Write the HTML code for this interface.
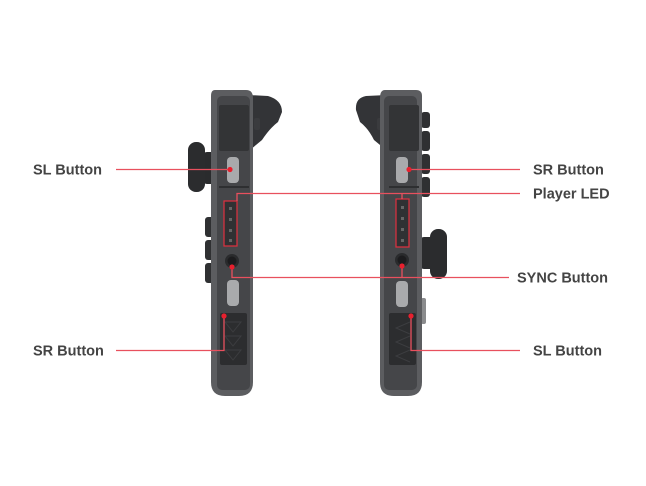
<!DOCTYPE html>
<html><head><style>
html,body{margin:0;padding:0;background:#fff;width:646px;height:486px;overflow:hidden}
text{font-family:"Liberation Sans",sans-serif;font-weight:bold;font-size:14.5px;fill:#444}
</style></head><body>
<svg width="646" height="486" viewBox="0 0 646 486" xmlns="http://www.w3.org/2000/svg">
<!-- LEFT JOYCON -->
<g>
  <!-- trigger -->
  <path d="M248 95 L268 96 Q282 100 282 112 L278 122 Q270 128 262 140 L250 150 Z" fill="#333437"/>
  <rect x="254" y="118" width="6" height="12" rx="2" fill="#3a3b3e"/>
  <!-- stick -->
  <rect x="203" y="152" width="12" height="32" rx="4" fill="#2a2b2d"/>
  <rect x="188" y="142" width="17" height="50" rx="8" fill="#2b2c2e"/>
  <!-- side buttons -->
  <rect x="205" y="217" width="10" height="20" rx="3" fill="#2f3032"/>
  <rect x="205" y="240" width="10" height="20" rx="3" fill="#2f3032"/>
  <rect x="205" y="263" width="10" height="20" rx="3" fill="#2f3032"/>
  <!-- body -->
  <path d="M215 90 L246 90 Q253 90 253 98 L253 382 Q253 396 239 396 L225 396 Q211 396 211 382 L211 96 Q211 90 215 90 Z" fill="#5c5d60"/>
  <rect x="217" y="96" width="33" height="294" rx="5" fill="#454649"/>
  <rect x="219" y="105" width="30" height="46" rx="2" fill="#333436"/>
  <rect x="227" y="157" width="12" height="26" rx="4" fill="#a9aaac"/>
  <rect x="219" y="186" width="30" height="2" fill="#2e2f31"/>
  <rect x="224" y="201" width="13" height="45" fill="#303133" stroke="#e0303f" stroke-width="1.2"/>
  <rect x="229" y="207" width="3" height="3" fill="#666"/><rect x="229" y="218" width="3" height="3" fill="#666"/>
  <rect x="229" y="229" width="3" height="3" fill="#666"/><rect x="229" y="239" width="3" height="3" fill="#666"/>
  <circle cx="232" cy="261" r="7" fill="#2a2b2d"/><circle cx="232" cy="261" r="4.5" fill="#1c1c1e"/>
  <rect x="227" y="280" width="12" height="26" rx="4" fill="#a9aaac"/>
  <rect x="220" y="313" width="27" height="52" rx="2" fill="#2c2d2f"/>
  <path d="M225 322 L241 322 L233 332 Z M225 336 L241 336 L233 346 Z M225 350 L241 350 L233 360 Z" fill="none" stroke="#3c3d40" stroke-width="1"/>
</g>
<!-- RIGHT JOYCON -->
<g>
  <path d="M386 95 L366 96 Q355 98 356 110 L360 122 Q368 128 374 140 L386 150 Z" fill="#333437"/>
  <rect x="377" y="118" width="6" height="12" rx="2" fill="#3a3b3e"/>
  <!-- side buttons -->
  <rect x="421" y="112" width="9" height="16" rx="3" fill="#2f3032"/>
  <rect x="421" y="131" width="9" height="20" rx="3" fill="#2f3032"/>
  <rect x="421" y="154" width="9" height="20" rx="3" fill="#2f3032"/>
  <rect x="421" y="177" width="9" height="20" rx="3" fill="#2f3032"/>
  <!-- stick -->
  <rect x="420" y="237" width="14" height="32" rx="4" fill="#2a2b2d"/>
  <rect x="430" y="229" width="17" height="50" rx="8" fill="#2b2c2e"/>
  <rect x="421" y="298" width="5" height="26" rx="2" fill="#8a8b8d"/>
  <path d="M385 90 L416 90 Q422 90 422 96 L422 382 Q422 396 408 396 L394 396 Q380 396 380 382 L380 98 Q380 90 385 90 Z" fill="#5c5d60"/>
  <rect x="384" y="96" width="33" height="294" rx="5" fill="#454649"/>
  <rect x="389" y="105" width="30" height="46" rx="2" fill="#333436"/>
  <rect x="396" y="157" width="12" height="26" rx="4" fill="#a9aaac"/>
  <rect x="389" y="186" width="30" height="2" fill="#2e2f31"/>
  <rect x="396" y="199" width="13" height="48" fill="#303133" stroke="#e0303f" stroke-width="1.2"/>
  <rect x="401" y="206" width="3" height="3" fill="#666"/><rect x="401" y="217" width="3" height="3" fill="#666"/>
  <rect x="401" y="228" width="3" height="3" fill="#666"/><rect x="401" y="239" width="3" height="3" fill="#666"/>
  <circle cx="402" cy="260" r="7" fill="#2a2b2d"/><circle cx="402" cy="260" r="4.5" fill="#1c1c1e"/>
  <rect x="396" y="281" width="12" height="26" rx="4" fill="#a9aaac"/>
  <rect x="389" y="313" width="27" height="52" rx="2" fill="#2c2d2f"/>
  <path d="M410 322 L396 328 L410 334 M410 336 L396 342 L410 348 M410 350 L396 356 L410 362" fill="none" stroke="#3c3d40" stroke-width="1"/>
</g>
<!-- CONNECTORS -->
<g stroke="#e8505e" stroke-width="1.3" fill="none">
  <line x1="116" y1="169.5" x2="230" y2="169.5"/>
  <polyline points="116,350.5 224,350.5 224,316"/>
  <polyline points="237,201 237,193.5 520,193.5"/>
  <line x1="402" y1="193.5" x2="402" y2="199"/>
  <polyline points="232,267 232,277.5 509,277.5"/>
  <line x1="402" y1="266" x2="402" y2="277.5"/>
  <line x1="409" y1="169.5" x2="520" y2="169.5"/>
  <polyline points="411,316 411,350.5 520,350.5"/>
</g>
<g fill="#e8202e">
  <circle cx="230" cy="169.5" r="2.6"/><circle cx="224" cy="316" r="2.6"/>
  <circle cx="232" cy="267" r="2.6"/><circle cx="402" cy="266" r="2.6"/>
  <circle cx="409" cy="169.5" r="2.6"/><circle cx="411" cy="316" r="2.6"/>
</g>
<text x="33" y="174.5">SL Button</text>
<text x="33" y="355.5">SR Button</text>
<text x="533" y="174.5">SR Button</text>
<text x="533" y="198.5">Player LED</text>
<text x="517" y="282.5">SYNC Button</text>
<text x="533" y="355.5">SL Button</text>
</svg>
</body></html>
